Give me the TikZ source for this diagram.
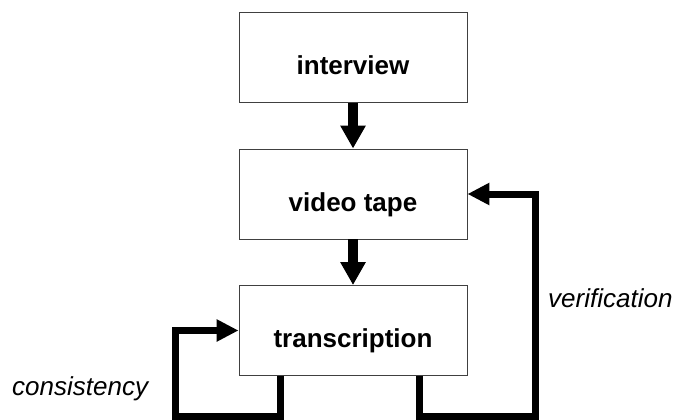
\documentclass[tikz,border=0pt]{standalone}
\usepackage{fontspec}
\setmainfont{Liberation Sans}
\usetikzlibrary{arrows.meta,calc}
\begin{document}
\begin{tikzpicture}[x=1pt,y=-1pt,
  box/.style={draw=black!75,line width=0.9pt,fill=white,minimum width=228pt,
    text height=62pt,text depth=28pt,inner sep=0pt,
    font=\fontsize{26}{30}\selectfont\bfseries},
  mainarrow/.style={line width=10pt,-{Triangle[length=23pt,width=24pt]}},
  loopline/.style={line width=7pt,line join=miter,-{Triangle[length=22pt,width=21pt]}},
  lbl/.style={inner sep=0pt,anchor=base west,font=\fontsize{26}{30}\selectfont\itshape}]
\useasboundingbox (0,0) rectangle (677,420);
\node[box] (iv) at (353,57.5) {interview};
\node[box] (vt) at (353,194) {video tape};
\node[box] (tr) at (353,330.5) {transcription};
\draw[mainarrow] (iv) -- (vt);
\draw[mainarrow] (vt) -- (tr);
\coordinate (cs) at (280,416);
\coordinate (cl) at (175.3,416);
\draw[loopline] (tr.south -| cs) -- (cs) -- (cl) |- (tr.west);
\coordinate (vs) at (419,416);
\coordinate (vr) at (535,416);
\draw[loopline] (tr.south -| vs) -- (vs) -- (vr) |- (vt.east);
\node[lbl] (cons) at (12,395) {consistency};
\node[lbl] (veri) at (548,307) {verification};
\end{tikzpicture}
\end{document}
